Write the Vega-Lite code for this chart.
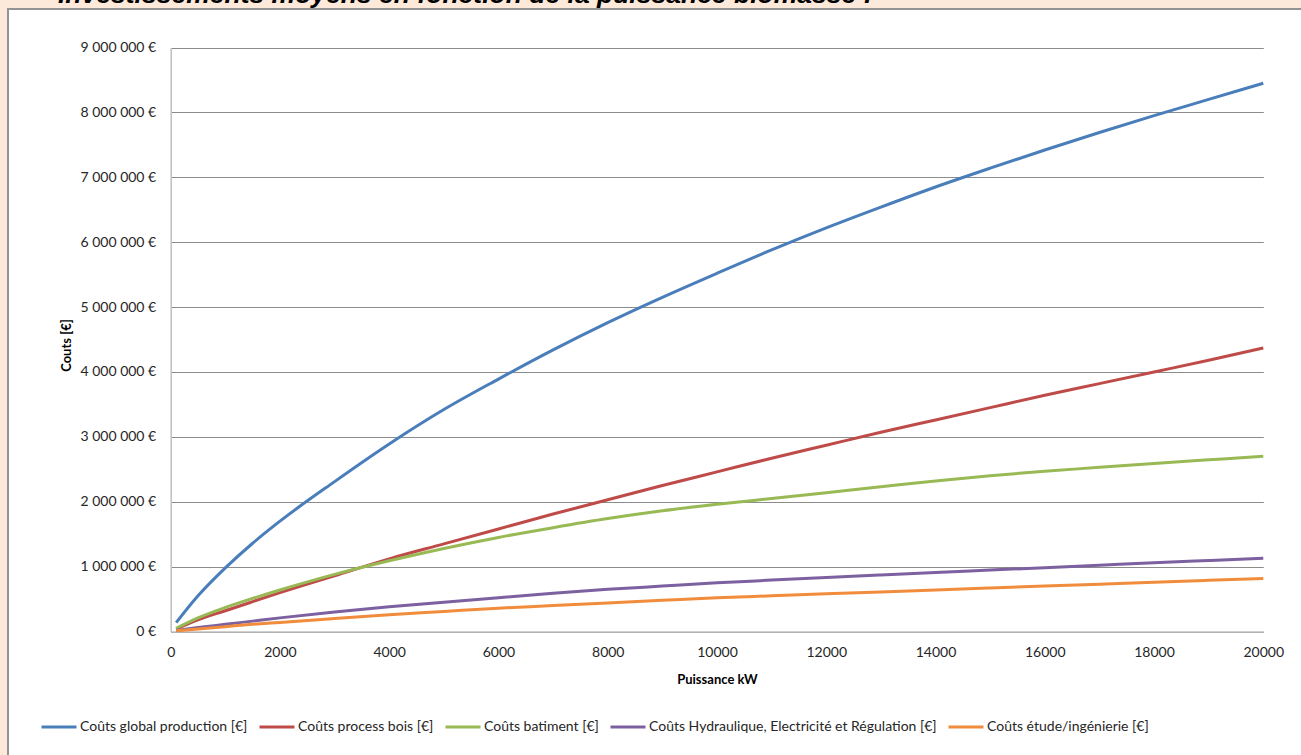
{
  "$schema": "https://vega.github.io/schema/vega-lite/v6.json",
  "width": 1296,
  "height": 749,
  "autosize": {"type": "none"},
  "padding": {"left": 8, "top": 9, "right": -3, "bottom": -3},
  "background": "#FDE9D9",
  "title": {
    "text": "Investissements moyens en fonction de la puissance biomasse :",
    "anchor": "start",
    "dx": 50,
    "offset": -20,
    "baseline": "alphabetic",
    "font": "Liberation Sans",
    "fontSize": 26.5,
    "fontWeight": "bold",
    "fontStyle": "italic",
    "color": "#000000"
  },
  "config": {
    "view": {"fill": "white", "stroke": "#939393", "strokeWidth": 2}
  },
  "data": {
    "values": [
      {"serie": "Coûts global production [€]", "kW": 100, "cout": 136000},
      {"serie": "Coûts global production [€]", "kW": 500, "cout": 550000},
      {"serie": "Coûts global production [€]", "kW": 1000, "cout": 980000},
      {"serie": "Coûts global production [€]", "kW": 1500, "cout": 1360000},
      {"serie": "Coûts global production [€]", "kW": 2000, "cout": 1700000},
      {"serie": "Coûts global production [€]", "kW": 3000, "cout": 2310000},
      {"serie": "Coûts global production [€]", "kW": 4000, "cout": 2890000},
      {"serie": "Coûts global production [€]", "kW": 5000, "cout": 3420000},
      {"serie": "Coûts global production [€]", "kW": 6000, "cout": 3890000},
      {"serie": "Coûts global production [€]", "kW": 7000, "cout": 4340000},
      {"serie": "Coûts global production [€]", "kW": 8000, "cout": 4760000},
      {"serie": "Coûts global production [€]", "kW": 9000, "cout": 5150000},
      {"serie": "Coûts global production [€]", "kW": 10000, "cout": 5520000},
      {"serie": "Coûts global production [€]", "kW": 11000, "cout": 5880000},
      {"serie": "Coûts global production [€]", "kW": 12000, "cout": 6220000},
      {"serie": "Coûts global production [€]", "kW": 13000, "cout": 6540000},
      {"serie": "Coûts global production [€]", "kW": 14000, "cout": 6850000},
      {"serie": "Coûts global production [€]", "kW": 15000, "cout": 7140000},
      {"serie": "Coûts global production [€]", "kW": 16000, "cout": 7420000},
      {"serie": "Coûts global production [€]", "kW": 17000, "cout": 7690000},
      {"serie": "Coûts global production [€]", "kW": 18000, "cout": 7950000},
      {"serie": "Coûts global production [€]", "kW": 19000, "cout": 8200000},
      {"serie": "Coûts global production [€]", "kW": 20000, "cout": 8450000},
      {"serie": "Coûts process bois [€]", "kW": 100, "cout": 40000},
      {"serie": "Coûts process bois [€]", "kW": 500, "cout": 180000},
      {"serie": "Coûts process bois [€]", "kW": 1000, "cout": 320000},
      {"serie": "Coûts process bois [€]", "kW": 1500, "cout": 460000},
      {"serie": "Coûts process bois [€]", "kW": 2000, "cout": 600000},
      {"serie": "Coûts process bois [€]", "kW": 3000, "cout": 860000},
      {"serie": "Coûts process bois [€]", "kW": 4000, "cout": 1120000},
      {"serie": "Coûts process bois [€]", "kW": 5000, "cout": 1350000},
      {"serie": "Coûts process bois [€]", "kW": 6000, "cout": 1580000},
      {"serie": "Coûts process bois [€]", "kW": 7000, "cout": 1810000},
      {"serie": "Coûts process bois [€]", "kW": 8000, "cout": 2030000},
      {"serie": "Coûts process bois [€]", "kW": 9000, "cout": 2250000},
      {"serie": "Coûts process bois [€]", "kW": 10000, "cout": 2460000},
      {"serie": "Coûts process bois [€]", "kW": 11000, "cout": 2670000},
      {"serie": "Coûts process bois [€]", "kW": 12000, "cout": 2870000},
      {"serie": "Coûts process bois [€]", "kW": 13000, "cout": 3070000},
      {"serie": "Coûts process bois [€]", "kW": 14000, "cout": 3260000},
      {"serie": "Coûts process bois [€]", "kW": 15000, "cout": 3450000},
      {"serie": "Coûts process bois [€]", "kW": 16000, "cout": 3640000},
      {"serie": "Coûts process bois [€]", "kW": 17000, "cout": 3820000},
      {"serie": "Coûts process bois [€]", "kW": 18000, "cout": 4000000},
      {"serie": "Coûts process bois [€]", "kW": 19000, "cout": 4180000},
      {"serie": "Coûts process bois [€]", "kW": 20000, "cout": 4370000},
      {"serie": "Coûts batiment [€]", "kW": 100, "cout": 50000},
      {"serie": "Coûts batiment [€]", "kW": 500, "cout": 210000},
      {"serie": "Coûts batiment [€]", "kW": 1000, "cout": 370000},
      {"serie": "Coûts batiment [€]", "kW": 1500, "cout": 510000},
      {"serie": "Coûts batiment [€]", "kW": 2000, "cout": 640000},
      {"serie": "Coûts batiment [€]", "kW": 3000, "cout": 880000},
      {"serie": "Coûts batiment [€]", "kW": 4000, "cout": 1090000},
      {"serie": "Coûts batiment [€]", "kW": 5000, "cout": 1280000},
      {"serie": "Coûts batiment [€]", "kW": 6000, "cout": 1450000},
      {"serie": "Coûts batiment [€]", "kW": 7000, "cout": 1600000},
      {"serie": "Coûts batiment [€]", "kW": 8000, "cout": 1740000},
      {"serie": "Coûts batiment [€]", "kW": 9000, "cout": 1860000},
      {"serie": "Coûts batiment [€]", "kW": 10000, "cout": 1960000},
      {"serie": "Coûts batiment [€]", "kW": 11000, "cout": 2050000},
      {"serie": "Coûts batiment [€]", "kW": 12000, "cout": 2140000},
      {"serie": "Coûts batiment [€]", "kW": 13000, "cout": 2230000},
      {"serie": "Coûts batiment [€]", "kW": 14000, "cout": 2320000},
      {"serie": "Coûts batiment [€]", "kW": 15000, "cout": 2400000},
      {"serie": "Coûts batiment [€]", "kW": 16000, "cout": 2470000},
      {"serie": "Coûts batiment [€]", "kW": 17000, "cout": 2530000},
      {"serie": "Coûts batiment [€]", "kW": 18000, "cout": 2590000},
      {"serie": "Coûts batiment [€]", "kW": 19000, "cout": 2645000},
      {"serie": "Coûts batiment [€]", "kW": 20000, "cout": 2700000},
      {"serie": "Coûts Hydraulique, Electricité et Régulation [€]", "kW": 100, "cout": 15000},
      {"serie": "Coûts Hydraulique, Electricité et Régulation [€]", "kW": 500, "cout": 60000},
      {"serie": "Coûts Hydraulique, Electricité et Régulation [€]", "kW": 1000, "cout": 110000},
      {"serie": "Coûts Hydraulique, Electricité et Régulation [€]", "kW": 1500, "cout": 160000},
      {"serie": "Coûts Hydraulique, Electricité et Régulation [€]", "kW": 2000, "cout": 210000},
      {"serie": "Coûts Hydraulique, Electricité et Régulation [€]", "kW": 3000, "cout": 300000},
      {"serie": "Coûts Hydraulique, Electricité et Régulation [€]", "kW": 4000, "cout": 380000},
      {"serie": "Coûts Hydraulique, Electricité et Régulation [€]", "kW": 5000, "cout": 450000},
      {"serie": "Coûts Hydraulique, Electricité et Régulation [€]", "kW": 6000, "cout": 520000},
      {"serie": "Coûts Hydraulique, Electricité et Régulation [€]", "kW": 7000, "cout": 590000},
      {"serie": "Coûts Hydraulique, Electricité et Régulation [€]", "kW": 8000, "cout": 650000},
      {"serie": "Coûts Hydraulique, Electricité et Régulation [€]", "kW": 9000, "cout": 700000},
      {"serie": "Coûts Hydraulique, Electricité et Régulation [€]", "kW": 10000, "cout": 750000},
      {"serie": "Coûts Hydraulique, Electricité et Régulation [€]", "kW": 11000, "cout": 792000},
      {"serie": "Coûts Hydraulique, Electricité et Régulation [€]", "kW": 12000, "cout": 833000},
      {"serie": "Coûts Hydraulique, Electricité et Régulation [€]", "kW": 13000, "cout": 872000},
      {"serie": "Coûts Hydraulique, Electricité et Régulation [€]", "kW": 14000, "cout": 910000},
      {"serie": "Coûts Hydraulique, Electricité et Régulation [€]", "kW": 15000, "cout": 947000},
      {"serie": "Coûts Hydraulique, Electricité et Régulation [€]", "kW": 16000, "cout": 984000},
      {"serie": "Coûts Hydraulique, Electricité et Régulation [€]", "kW": 17000, "cout": 1021000},
      {"serie": "Coûts Hydraulique, Electricité et Régulation [€]", "kW": 18000, "cout": 1058000},
      {"serie": "Coûts Hydraulique, Electricité et Régulation [€]", "kW": 19000, "cout": 1094000},
      {"serie": "Coûts Hydraulique, Electricité et Régulation [€]", "kW": 20000, "cout": 1130000},
      {"serie": "Coûts étude/ingénierie [€]", "kW": 100, "cout": 10000},
      {"serie": "Coûts étude/ingénierie [€]", "kW": 500, "cout": 40000},
      {"serie": "Coûts étude/ingénierie [€]", "kW": 1000, "cout": 75000},
      {"serie": "Coûts étude/ingénierie [€]", "kW": 1500, "cout": 110000},
      {"serie": "Coûts étude/ingénierie [€]", "kW": 2000, "cout": 140000},
      {"serie": "Coûts étude/ingénierie [€]", "kW": 3000, "cout": 200000},
      {"serie": "Coûts étude/ingénierie [€]", "kW": 4000, "cout": 260000},
      {"serie": "Coûts étude/ingénierie [€]", "kW": 5000, "cout": 310000},
      {"serie": "Coûts étude/ingénierie [€]", "kW": 6000, "cout": 360000},
      {"serie": "Coûts étude/ingénierie [€]", "kW": 7000, "cout": 400000},
      {"serie": "Coûts étude/ingénierie [€]", "kW": 8000, "cout": 440000},
      {"serie": "Coûts étude/ingénierie [€]", "kW": 9000, "cout": 480000},
      {"serie": "Coûts étude/ingénierie [€]", "kW": 10000, "cout": 520000},
      {"serie": "Coûts étude/ingénierie [€]", "kW": 11000, "cout": 550000},
      {"serie": "Coûts étude/ingénierie [€]", "kW": 12000, "cout": 580000},
      {"serie": "Coûts étude/ingénierie [€]", "kW": 13000, "cout": 610000},
      {"serie": "Coûts étude/ingénierie [€]", "kW": 14000, "cout": 640000},
      {"serie": "Coûts étude/ingénierie [€]", "kW": 15000, "cout": 670000},
      {"serie": "Coûts étude/ingénierie [€]", "kW": 16000, "cout": 700000},
      {"serie": "Coûts étude/ingénierie [€]", "kW": 17000, "cout": 730000},
      {"serie": "Coûts étude/ingénierie [€]", "kW": 18000, "cout": 760000},
      {"serie": "Coûts étude/ingénierie [€]", "kW": 19000, "cout": 788000},
      {"serie": "Coûts étude/ingénierie [€]", "kW": 20000, "cout": 815000}
    ]
  },
  "mark": {"type": "line", "strokeWidth": 3, "interpolate": "monotone"},
  "encoding": {
    "x": {
      "field": "kW",
      "type": "quantitative",
      "scale": {"domain": [0, 20000], "range": [162.7, 1255.3], "nice": false, "zero": false},
      "axis": {
        "title": "Puissance kW",
        "values": [0, 2000, 4000, 6000, 8000, 10000, 12000, 14000, 16000, 18000, 20000],
        "format": "d",
        "offset": -126.5,
        "grid": false,
        "ticks": false,
        "tickSize": 0,
        "domainColor": "#BFBFBF",
        "domainWidth": 1.5,
        "labelPadding": 14,
        "labelFlush": false,
        "labelFont": "Lato",
        "labelFontSize": 14,
        "labelColor": "#262626",
        "labelOverlap": false,
        "titleFont": "Lato",
        "titleFontSize": 13,
        "titleFontWeight": "bold",
        "titleColor": "#000000",
        "titlePadding": 14
      }
    },
    "y": {
      "field": "cout",
      "type": "quantitative",
      "scale": {"domain": [0, 9000000], "range": [622.5, 38.5], "nice": false},
      "axis": {
        "title": "Couts [€]",
        "values": [0, 1000000, 2000000, 3000000, 4000000, 5000000, 6000000, 7000000, 8000000, 9000000],
        "labelExpr": "datum.value == 0 ? '0 €' : format(datum.value / 1000000, 'd') + ' 000 000 €'",
        "offset": -162.7,
        "grid": true,
        "gridColor": "#8C8C8C",
        "gridWidth": 1,
        "ticks": false,
        "tickSize": 0,
        "domainColor": "#BFBFBF",
        "domainWidth": 1.5,
        "labelPadding": 15,
        "labelFlush": false,
        "labelFont": "Lato",
        "labelFontSize": 14,
        "labelColor": "#262626",
        "labelOverlap": false,
        "titleFont": "Lato",
        "titleFontSize": 13,
        "titleFontWeight": "bold",
        "titleColor": "#000000",
        "titleX": -97,
        "titleY": 336,
        "titleAlign": "center"
      }
    },
    "color": {
      "field": "serie",
      "type": "nominal",
      "scale": {
        "domain": ["Coûts global production [€]", "Coûts process bois [€]", "Coûts batiment [€]", "Coûts Hydraulique, Electricité et Régulation [€]", "Coûts étude/ingénierie [€]"],
        "range": ["#4A7EBB", "#BE4B48", "#98B954", "#7D60A0", "#F08C3C"]
      },
      "legend": {
        "orient": "none",
        "legendX": 32,
        "legendY": 699,
        "direction": "horizontal",
        "title": null,
        "symbolType": "stroke",
        "symbolSize": 1225,
        "symbolStrokeWidth": 3,
        "labelFont": "Lato",
        "labelFontSize": 14,
        "labelColor": "#262626",
        "labelOffset": 2,
        "columnPadding": 5,
        "labelLimit": 0
      }
    }
  }
}
